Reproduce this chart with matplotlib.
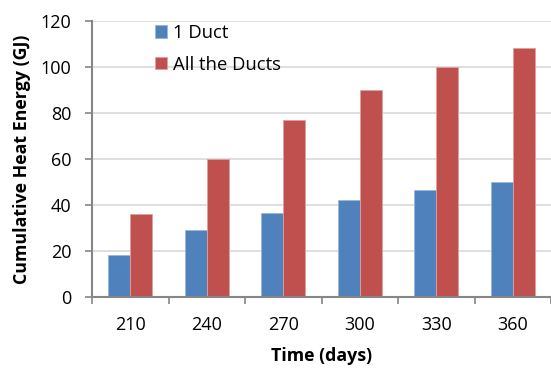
import numpy as np
import matplotlib.pyplot as plt

plt.rcParams['font.family'] = ['Open Sans', 'DejaVu Sans']

days = ['210', '240', '270', '300', '330', '360']
one_duct = [18.1, 29.1, 36.5, 42.0, 46.4, 49.9]
all_ducts = [36.1, 59.9, 77.0, 89.9, 100.0, 108.4]

blue = '#4F81BD'
red = '#C0504D'
axis_gray = '#868686'

fig = plt.figure(figsize=(5.51, 3.69), dpi=100)
ax = fig.add_axes([0.167, 0.195, 0.833, 0.748])

x = np.arange(len(days))
w = 0.287
ax.bar(x - w / 2, one_duct, w, color=blue, edgecolor='#9db6d8', linewidth=0.6, label='1 Duct', zorder=3)
ax.bar(x + w / 2, all_ducts, w, color=red, edgecolor='#e0a09e', linewidth=0.6, label='All the Ducts', zorder=3)

ax.set_xlim(-0.5, len(days) - 0.5)
ax.set_ylim(0, 120)
ax.set_yticks(range(0, 121, 20))
ax.yaxis.grid(True, color='#d9d9d9', linewidth=1.2, zorder=0)

# category boundaries get the tick marks, labels sit in the middle
ax.set_xticks(np.arange(-0.5, len(days)), labels=[''] * (len(days) + 1))
ax.set_xticks(x, labels=days, minor=True)
ax.tick_params(axis='x', which='major', length=5, width=1.2, color=axis_gray, direction='out')
ax.tick_params(axis='x', which='minor', length=0, pad=14, labelsize=13)
ax.tick_params(axis='y', length=5, width=1.2, color=axis_gray, pad=10, labelsize=13)

for side in ['top', 'right']:
    ax.spines[side].set_visible(False)
for side in ['left', 'bottom']:
    ax.spines[side].set_color(axis_gray)
    ax.spines[side].set_linewidth(1.5)
    ax.spines[side].set_zorder(4)

ax.set_xlabel('Time (days)', fontsize=12.8, fontweight='bold', labelpad=9)
ax.set_ylabel('Cumulative Heat Energy (GJ)', fontsize=12.8, fontweight='bold', labelpad=7)

ax.legend(loc='upper left', bbox_to_anchor=(0.1, 1.05), frameon=False, fontsize=13.3,
          handlelength=0.65, handleheight=0.65, handletextpad=0.35, labelspacing=0.75)

fig.savefig('out.png', dpi=100)
